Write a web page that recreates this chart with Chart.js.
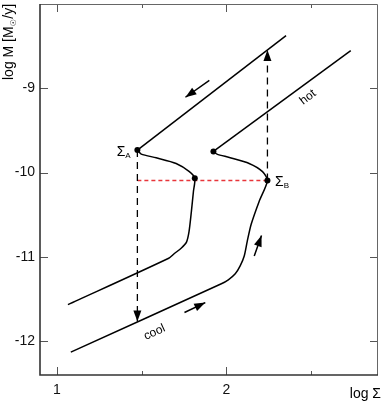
<!DOCTYPE html>
<html>
<head>
<meta charset="utf-8">
<script src="https://cdn.jsdelivr.net/npm/chart.js@4.4.0/dist/chart.umd.min.js"></script>
<style>
body{margin:0;background:#fff;}
#wrap{width:381px;height:401px;}
</style>
</head>
<body>
<div id="wrap"><canvas id="disk" width="381" height="401"></canvas></div>
<script>
// axis ticks
var xTicks = [1, 1.5, 2, 2.5];
var xTickLabels = ['1', '', '2', ''];
var yTicks = [-12, -11, -10, -9];

// left S-curve (cool branch -> turning point -> Sigma_A)
var curveAx = [1.065, 1.660, 1.694, 1.735, 1.765, 1.780, 1.794, 1.806, 1.814, 1.782, 1.704, 1.586, 1.498, 1.475];
var curveAy = [-11.565, -11.015, -10.959, -10.894, -10.824, -10.700, -10.459, -10.224, -10.067, -9.988, -9.891, -9.824, -9.780, -9.733];
// hot branch above Sigma_A
var hotAx = [1.475, 2.353];
var hotAy = [-9.733, -8.376];

// right S-curve (cool branch -> Sigma_B -> nose)
var curveBx = [1.082, 1.971, 2.012, 2.053, 2.082, 2.106, 2.124, 2.147, 2.194, 2.243, 2.214, 2.135, 2.018, 1.945, 1.924];
var curveBy = [-12.129, -11.318, -11.271, -11.200, -11.106, -10.988, -10.812, -10.612, -10.341, -10.094, -9.988, -9.891, -9.820, -9.780, -9.749];
var hotBx = [1.924, 2.735];
var hotBy = [-9.749, -8.553];

// marked points
var dotsX = [1.475, 1.814, 1.924, 2.243];
var dotsY = [-9.733, -10.067, -9.749, -10.094];

// transitions
var dropX = [1.475, 1.475];
var dropY = [-9.733, -11.765];
var jumpX = [2.243, 2.243];
var jumpY = [-10.094, -8.546];
var levelX = [1.475, 2.243];
var levelY = [-10.094, -10.094];

// direction arrows (tail, tip)
var arrow1X = [1.900, 1.759];
var arrow1Y = [-8.906, -9.106];
var arrow2X = [2.165, 2.208];
var arrow2Y = [-10.988, -10.745];
var arrow3X = [1.753, 1.876];
var arrow3Y = [-11.659, -11.541];

var FONT = "'Liberation Sans', Arial, sans-serif";

function pts(xs, ys){
	return xs.map(function(x, i){ return {x: x, y: ys[i]}; });
}
function lineSet(xs, ys, extra){
	var d = {data: pts(xs, ys), showLine: true, borderColor: '#000', backgroundColor: '#000',
		borderWidth: 1.5, pointRadius: 0, tension: 0, fill: false};
	for (var k in extra) d[k] = extra[k];
	return d;
}

var labels = [
	{text: 'hot', x: 2.482, y: -9.106, rot: -38, size: 12},
	{text: 'cool', x: 1.576, y: -11.894, rot: -25, size: 12}
];
var sigmas = [
	{sub: 'A', x: 1.353, y: -9.753},
	{sub: 'B', x: 2.288, y: -10.114}
];

var extras = {
	id: 'extras',
	afterDatasetsDraw: function(chart){
		var ctx = chart.ctx;
		var xs = chart.scales.x, ys = chart.scales.y;
		// arrow heads
		chart.data.datasets.forEach(function(ds, i){
			if (!ds.arrowHead) return;
			var pts = chart.getDatasetMeta(i).data;
			var a = pts[pts.length - 2], b = pts[pts.length - 1];
			var ang = Math.atan2(b.y - a.y, b.x - a.x);
			var L = 11, W = 4;
			ctx.save();
			ctx.translate(b.x, b.y);
			ctx.rotate(ang);
			ctx.beginPath();
			ctx.moveTo(0, 0);
			ctx.lineTo(-L, -W);
			ctx.lineTo(-L, W);
			ctx.closePath();
			ctx.fillStyle = '#000';
			ctx.fill();
			ctx.restore();
		});
		// rotated labels
		labels.forEach(function(l){
			ctx.save();
			ctx.translate(xs.getPixelForValue(l.x), ys.getPixelForValue(l.y));
			ctx.rotate(l.rot * Math.PI / 180);
			ctx.font = l.size + 'px ' + FONT;
			ctx.fillStyle = '#000';
			ctx.textAlign = 'center';
			ctx.textBaseline = 'middle';
			ctx.fillText(l.text, 0, 0);
			ctx.restore();
		});
		// sigma labels
		sigmas.forEach(function(s){
			var px = xs.getPixelForValue(s.x), py = ys.getPixelForValue(s.y);
			ctx.save();
			ctx.fillStyle = '#000';
			ctx.textAlign = 'left';
			ctx.textBaseline = 'middle';
			ctx.font = '14px ' + FONT;
			ctx.fillText('\u03A3', px, py);
			var w = ctx.measureText('\u03A3').width;
			ctx.font = '8px ' + FONT;
			ctx.fillText(s.sub, px + w, py + 4);
			ctx.restore();
		});
	},
	afterDraw: function(chart){
		var ctx = chart.ctx, a = chart.chartArea;
		var xs = chart.scales.x, ys = chart.scales.y;
		ctx.save();
		// inward ticks
		ctx.strokeStyle = '#555';
		ctx.lineWidth = 1;
		xTicks.forEach(function(v, i){
			var px = Math.round(xs.getPixelForValue(v)) + 0.5;
			var len = xTickLabels[i] ? 8 : 4;
			ctx.beginPath();
			ctx.moveTo(px, a.bottom); ctx.lineTo(px, a.bottom - len);
			ctx.moveTo(px, a.top); ctx.lineTo(px, a.top + len);
			ctx.stroke();
		});
		yTicks.forEach(function(v){
			var py = Math.round(ys.getPixelForValue(v)) + 0.5;
			ctx.beginPath();
			ctx.moveTo(a.left, py); ctx.lineTo(a.left + 8, py);
			ctx.moveTo(a.right, py); ctx.lineTo(a.right - 7, py);
			ctx.stroke();
		});
		// frame
		ctx.strokeStyle = '#666';
		ctx.lineWidth = 1;
		ctx.beginPath();
		ctx.moveTo(a.left, a.top + 0.5); ctx.lineTo(a.right + 0.5, a.top + 0.5);
		ctx.lineTo(a.right + 0.5, a.bottom);
		ctx.stroke();
		ctx.strokeStyle = '#333';
		ctx.lineWidth = 1.6;
		ctx.beginPath();
		ctx.moveTo(a.left, a.top); ctx.lineTo(a.left, a.bottom); ctx.lineTo(a.right + 1, a.bottom);
		ctx.stroke();
		// axis titles
		ctx.fillStyle = '#000';
		ctx.font = '14px ' + FONT;
		ctx.textAlign = 'right';
		ctx.textBaseline = 'alphabetic';
		ctx.fillText('log \u03A3', 381, 398);
		ctx.translate(13, 80);
		ctx.rotate(-Math.PI / 2);
		ctx.textAlign = 'left';
		var t1 = 'log M [M';
		ctx.fillText(t1, 0, 0);
		var w1 = ctx.measureText(t1).width;
		ctx.font = '8px DejaVu Sans, ' + FONT;
		ctx.fillText('\u2609', w1, 3);
		var w2 = ctx.measureText('\u2609').width;
		ctx.font = '14px ' + FONT;
		ctx.fillText('/y]', w1 + w2 + 0.5, 0);
		ctx.restore();
	}
};

var ctx = document.getElementById('disk').getContext('2d');
var chart = new Chart(ctx, {
	type: 'scatter',
	data: {
		datasets: [
			lineSet(curveAx, curveAy, {tension: 0.25}),
			lineSet(hotAx, hotAy),
			lineSet(curveBx, curveBy, {tension: 0.25}),
			lineSet(hotBx, hotBy),
			{data: pts(dotsX, dotsY), pointRadius: 3, pointBackgroundColor: '#000', pointBorderWidth: 0, showLine: false},
			lineSet(dropX, dropY, {borderDash: [7, 5], borderWidth: 1.3, arrowHead: true}),
			lineSet(jumpX, jumpY, {borderDash: [7, 5], borderWidth: 1.3, arrowHead: true}),
			lineSet(levelX, levelY, {borderDash: [4, 3], borderWidth: 1.4, borderColor: '#e8353a'}),
			lineSet(arrow1X, arrow1Y, {arrowHead: true}),
			lineSet(arrow2X, arrow2Y, {arrowHead: true}),
			lineSet(arrow3X, arrow3Y, {arrowHead: true})
		]
	},
	options: {
		responsive: false,
		animation: false,
		layout: {padding: {top: 1, right: 3, left: 0, bottom: 0}},
		plugins: {legend: {display: false}, tooltip: {enabled: false}},
		scales: {
			x: {
				type: 'linear', min: 0.9, max: 2.89,
				grid: {display: false, drawTicks: false},
				border: {display: false},
				afterBuildTicks: function(s){ s.ticks = xTicks.map(function(v){ return {value: v}; }); },
				afterFit: function(s){ s.height = 26; s.paddingLeft = 0; s.paddingRight = 0; },
				ticks: {
					padding: 7, color: '#111', font: {size: 14, family: FONT},
					maxRotation: 0, autoSkip: false,
					callback: function(v, i){ return xTickLabels[i]; }
				}
			},
			y: {
				type: 'linear', min: -12.4, max: -8.0,
				grid: {display: false, drawTicks: false},
				border: {display: false},
				afterBuildTicks: function(s){ s.ticks = yTicks.map(function(v){ return {value: v}; }); },
				afterFit: function(s){ s.width = 40; s.paddingTop = 0; s.paddingBottom = 0; },
				ticks: {
					padding: 5, color: '#111', font: {size: 14, family: FONT},
					callback: function(v){ return String(v); }
				}
			}
		}
	},
	plugins: [extras]
});
</script>
</body>
</html>
